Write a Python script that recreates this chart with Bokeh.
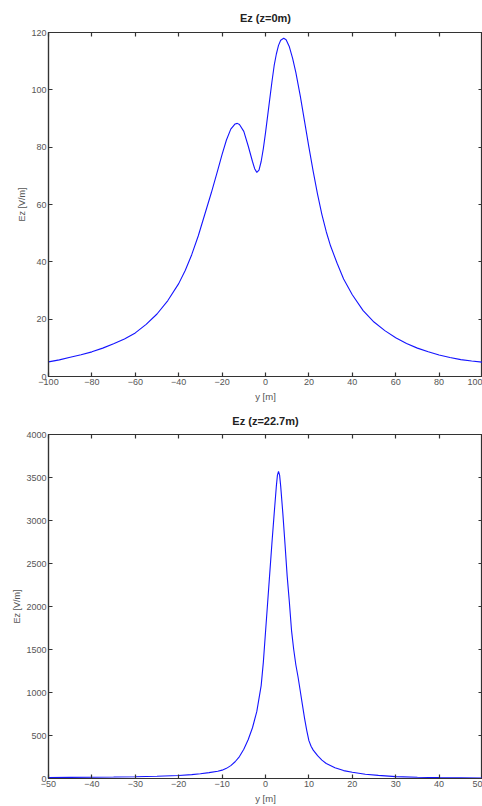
from bokeh.plotting import figure
from bokeh.models import LinearAxis, FixedTicker, Range1d
from bokeh.layouts import column
from bokeh.embed import file_html
from bokeh.resources import INLINE

# ---- data ----
top_y = [-100, -95, -90, -85, -80, -75, -70, -65, -60, -55, -50, -45, -40, -37, -34, -31,
         -28, -25, -22, -20, -18, -16, -14, -13, -12, -10, -8, -6, -5, -4, -3, -2, -1, 0,
         1, 2, 3, 4, 5, 6, 7, 8.4, 9.5, 11, 12.5, 14, 16, 18, 20, 22, 24, 26, 28, 30, 33,
         36, 40, 45, 50, 55, 60, 65, 70, 75, 80, 85, 90, 95, 100]
top_ez = [5.1, 5.8, 6.7, 7.6, 8.6, 9.9, 11.4, 13.1, 15.2, 18.2, 21.8, 26.5, 32.4, 37, 42.5, 49,
          56.5, 64, 72, 77.5, 82.5, 86.3, 88.1, 88.3, 87.9, 85.5, 80.5, 75, 72.5, 71.2, 72, 75, 79.5, 85,
          91, 97, 103, 108.5, 112.5, 115.5, 117.3, 118, 117.5, 115, 111, 106, 98, 89, 80, 71.5, 63.5, 56.5, 50.5, 45.5, 39.5,
          34, 28.5, 23, 19, 16, 13.5, 11.5, 9.9, 8.6, 7.5, 6.6, 5.9, 5.4, 5.0]

bot_y = [-50, -45, -40, -35, -30, -25, -20, -17, -15, -13, -11, -10, -9, -8, -7, -6, -5, -4,
         -3, -2, -1, -0.5, 0, 0.5, 1, 1.5, 2, 2.5, 2.75, 3, 3.25, 3.5, 4, 4.5, 5, 5.5, 6, 6.5, 7, 7.5,
         8, 8.5, 9, 9.5, 10, 10.5, 11, 12, 13, 14, 16, 18, 20, 23, 26, 30, 35, 40, 45, 50]
bot_ez = [12, 13, 15, 17, 20, 26, 35, 45, 55, 68, 85, 97, 118, 150, 195, 255, 340, 450,
          590, 780, 1080, 1350, 1700, 2050, 2400, 2750, 3080, 3400, 3527, 3570, 3527, 3400, 3080, 2720, 2350, 2050, 1720, 1500, 1320, 1180,
          1020, 860, 700, 560, 440, 375, 330, 265, 213, 175, 125, 92, 72, 50, 36, 22, 15, 10, 8, 6]

top_xticks = [-100, -80, -60, -40, -20, 0, 20, 40, 60, 80, 100]
top_yticks = [0, 20, 40, 60, 80, 100, 120]
bot_xticks = [-50, -40, -30, -20, -10, 0, 10, 20, 30, 40, 50]
bot_yticks = [0, 500, 1000, 1500, 2000, 2500, 3000, 3500, 4000]

FONT = "Liberation Sans"
AX = "#333333"


def style_axis(ax, ticks, labels=True):
    ax.ticker = FixedTicker(ticks=ticks)
    ax.major_tick_in = 4
    ax.major_tick_out = 0
    ax.minor_tick_in = 0
    ax.minor_tick_out = 0
    ax.axis_line_color = AX
    ax.axis_line_width = 1.2
    ax.major_tick_line_color = AX
    ax.major_tick_line_width = 1.2
    ax.major_label_text_font = FONT
    ax.major_label_text_color = "#555555"
    ax.major_label_text_font_size = "9px"
    ax.major_label_standoff = 2 if labels else 0
    if not labels:
        ax.major_label_overrides = {t: "" for t in ticks}
    ax.axis_label_text_font = FONT
    ax.axis_label_text_font_style = "normal"
    ax.axis_label_text_color = "#555555"


def make(title, xs, ys, xr, yr, xt, yt, height, bt, bb, standoff):
    p = figure(width=482, height=height, output_backend="svg", toolbar_location=None,
               x_range=Range1d(*xr), y_range=Range1d(*yr),
               min_border_left=48, min_border_right=0, min_border_top=bt, min_border_bottom=bb,
               x_axis_label="y [m]", y_axis_label="Ez [V/m]", title=title)
    p.grid.visible = False
    p.outline_line_color = AX
    p.outline_line_width = 1.2
    p.background_fill_color = "white"
    p.border_fill_color = "white"
    p.title.align = "center"
    p.title.text_font = FONT
    p.title.text_font_size = "11px"
    p.title.text_font_style = "bold"
    p.title.text_color = "#222222"
    p.title.standoff = standoff
    style_axis(p.xaxis[0], xt)
    style_axis(p.yaxis[0], yt)
    p.xaxis[0].axis_label_standoff = 3
    p.xaxis[0].axis_label_text_font_size = "9.5px"
    p.yaxis[0].axis_label_standoff = 1
    p.yaxis[0].axis_label_text_font_size = "9px"
    top = LinearAxis()
    style_axis(top, xt, labels=False)
    p.add_layout(top, "above")
    right = LinearAxis()
    style_axis(right, yt, labels=False)
    p.add_layout(right, "right")
    p.line(xs, ys, line_color="#1414ff", line_width=1.1)
    return p


p1 = make("Ez (z=0m)", top_y, top_ez, (-100, 100), (0, 120), top_xticks, top_yticks, 404, 32, 28, 18)
p2 = make("Ez (z=22.7m)", bot_y, bot_ez, (-50, 50), (0, 4000), bot_xticks, bot_yticks, 402, 30, 28, 16)

layout = column(p1, p2)
open("out.html", "w").write(file_html(layout, INLINE))
